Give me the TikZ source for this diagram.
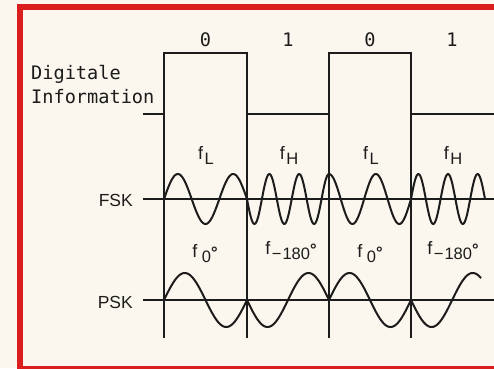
\documentclass[tikz,border=0pt]{standalone}
\usepackage{fontspec}
\setmainfont{Liberation Sans}
\newfontfamily\digfont{DejaVu Sans Mono}
\usepackage{tikz}
\usetikzlibrary{positioning}
\usepackage{xcolor}
\definecolor{frameRed}{HTML}{DA1E1E}
\definecolor{paper}{HTML}{FBF7EE}
\definecolor{ink}{HTML}{1C1C1C}

% f with lowered index
\newcommand{\fsub}[1]{f\kern1.5pt\raisebox{-5.5pt}{\fontsize{16.5}{17}\selectfont #1}}
\newcommand{\degMark}{\raisebox{4pt}{\textbf{°}}}
% one piece of a sine: x0, width, axis, amplitude, phase, cycles
\newcommand{\waveSeg}[6]{%
  \draw[waveLine] plot[domain=0:1, samples=90, smooth]
    ({#1+#2*\x}, {#3-#4*sin(#5+360*#6*\x)});}

\begin{document}
\begin{tikzpicture}[x=1pt, y=-1pt,
    monoText/.style={font=\digfont\fontsize{18.6}{24}\selectfont, text=ink, inner sep=0pt},
    sigLabel/.style={font=\fontsize{17.5}{20}\selectfont, text=ink, inner xsep=10pt, inner ysep=0pt},
    freqLabel/.style={font=\fontsize{18}{20}\selectfont, text=ink, inner sep=0pt},
    waveLine/.style={draw=ink, line width=2pt, line join=round},
    axisLine/.style={draw=ink, line width=1.1pt},
    bitLine/.style={draw=ink, line width=1.3pt},
    frameLine/.style={draw=frameRed, line width=6pt}
]
    \useasboundingbox (0,0) rectangle (494,368);
    \clip (0,0) rectangle (494,368);
    \fill[paper] (0,0) rectangle (494,368);
    \draw[frameLine] (20,7) rectangle (510,369);

    % digitale Information
    \node[monoText, anchor=north west, align=left] (info) at (31,65) {Digitale\\Information};
    \draw[line width=1.5pt, draw=ink] (143,114) -- (164,114) -- (164,53) -- (247,53) -- (247,114)
        -- (329,114) -- (329,53) -- (411,53) -- (411,114) -- (494,114);
    \foreach \bx in {164,247,329,411}
        \draw[bitLine] (\bx,114) -- (\bx,338);
    \foreach \bx/\bv [count=\i] in {205.5/0, 288/1, 370/0, 452/1}
        \node[monoText, anchor=base] (bit\i) at (\bx,46) {\bv};

    % FSK
    \node[sigLabel, anchor=east] (fsk) at (143,200) {FSK};
    \coordinate (fskEnd) at (494,199);
    \draw[axisLine] (fsk.east |- fskEnd) -- (fskEnd);
    \node[freqLabel, anchor=base] (fL1) at (206,159) {\fsub{L}};
    \node[freqLabel, anchor=base] (fH1) at (289,159) {\fsub{H}};
    \node[freqLabel, anchor=base] (fL2) at (371,159) {\fsub{L}};
    \node[freqLabel, anchor=base] (fH2) at (453,159) {\fsub{H}};
    \waveSeg{164}{83}{199}{25}{0}{1.5}
    \waveSeg{247}{82}{199}{25}{540}{2.75}
    \waveSeg{329}{82}{199}{25}{90}{1.75}
    \waveSeg{411}{74}{199}{25}{0}{2.5}

    % PSK
    \node[sigLabel, anchor=east] (psk) at (143,302) {PSK};
    \coordinate (pskEnd) at (494,300);
    \draw[axisLine] (psk.east |- pskEnd) -- (pskEnd);
    \node[freqLabel, anchor=base] (fP1) at (205,257) {\fsub{\kern3pt 0\degMark}};
    \node[freqLabel, anchor=base] (fP2) at (291,254) {\fsub{−\kern1pt 180\degMark}};
    \node[freqLabel, anchor=base] (fP3) at (370,257) {\fsub{\kern3pt 0\degMark}};
    \node[freqLabel, anchor=base] (fP4) at (453,254) {\fsub{−\kern1pt 180\degMark}};
    \waveSeg{164}{83}{300}{27}{0}{1}
    \waveSeg{247}{82}{300}{27}{180}{1}
    \waveSeg{329}{82}{300}{27}{0}{1}
    \waveSeg{411}{70}{300}{27}{180}{0.85}
\end{tikzpicture}
\end{document}
